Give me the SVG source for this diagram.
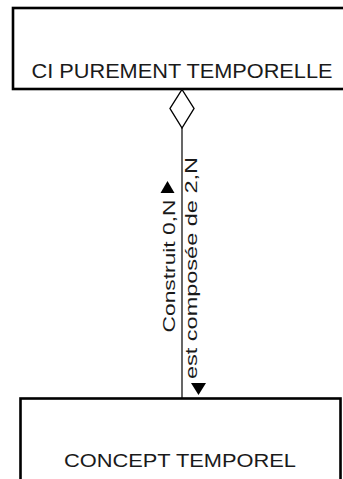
<svg xmlns="http://www.w3.org/2000/svg" width="343" height="479" viewBox="0 0 343 479">
  <style>
    .box { fill: #ffffff; stroke: #000000; stroke-width: 2.6; }
    .label { font-family: "Liberation Sans", Arial, sans-serif; fill: #1a1a1a; }
    .link { stroke: #000000; stroke-width: 1.2; fill: none; }
    .head { fill: #000000; }
  </style>
  <rect width="343" height="479" fill="#ffffff"/>

  <g id="ci-purement-temporelle">
    <rect class="box" x="13" y="8" width="360" height="81"/>
    <text class="label" x="182" y="77.5" font-size="19.5" text-anchor="middle" textLength="301" lengthAdjust="spacingAndGlyphs">CI PUREMENT TEMPORELLE</text>
  </g>

  <g id="concept-temporel">
    <rect class="box" x="20.5" y="398.5" width="320" height="100"/>
    <text class="label" x="180" y="467.3" font-size="19" text-anchor="middle" textLength="232" lengthAdjust="spacingAndGlyphs">CONCEPT TEMPOREL</text>
  </g>

  <g id="connectors">
    <line class="link" x1="182" y1="128" x2="182" y2="398"/>
    <polygon points="182,89.5 194,108.5 182,128 170,108.5" fill="#ffffff" stroke="#000000" stroke-width="1.4"/>
    <polygon class="head" points="160.5,193 174.5,193 167.5,181"/>
    <polygon class="head" points="191,383 206,383 198.5,395"/>
    <text class="label" transform="translate(174.5,266) rotate(-90)" font-size="17" text-anchor="middle" textLength="133" lengthAdjust="spacingAndGlyphs">Construit 0,N</text>
    <text class="label" transform="translate(196.5,268) rotate(-90)" font-size="17" text-anchor="middle" textLength="222" lengthAdjust="spacingAndGlyphs">est composée de 2,N</text>
  </g>
</svg>
